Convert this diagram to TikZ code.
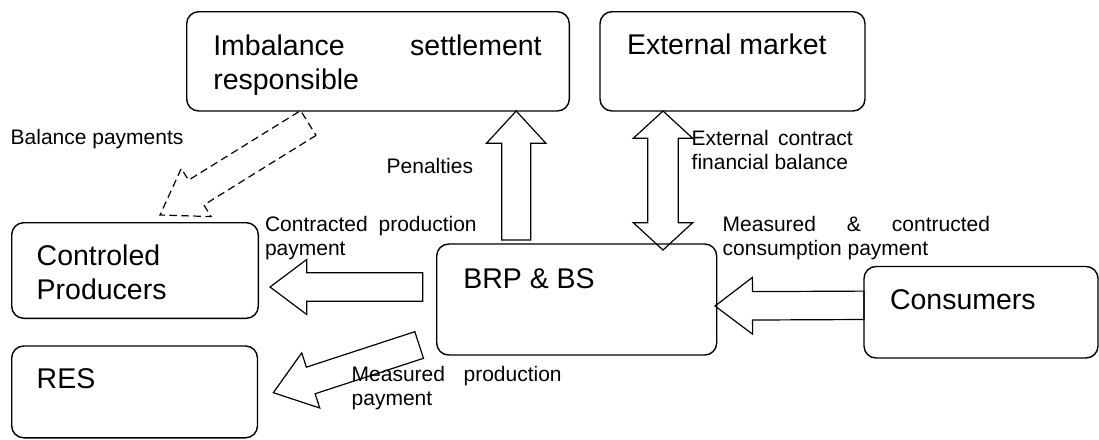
\documentclass[tikz,border=0pt]{standalone}
\usepackage{fontspec}
\setmainfont{Liberation Sans}
\usetikzlibrary{calc}

\tikzset{
  box/.style={draw, line width=1.4pt, rounded corners=12pt, inner sep=0pt, outer sep=0pt, anchor=north west},
  bigtxt/.style={inner sep=0pt, outer sep=0pt, anchor=base west, font=\fontsize{28.5}{34}\selectfont},
  smalltxt/.style={inner sep=0pt, outer sep=0pt, anchor=base west, font=\fontsize{21}{24}\selectfont},
  flow/.style={draw, line width=1.2pt, line join=miter},
  dashflow/.style={flow, dash pattern=on 7.5pt off 4.5pt},
}

% block arrow: [style]{tail}{tip}{half shaft width}{half head width}{head length}
\newcommand\blockarrow[6][]{%
  \coordinate (ba-h) at ($(#3)!#6!(#2)$);
  \draw[flow,#1] ($(#2)!#4!90:(#3)$) -- ($(ba-h)!#4!-90:(#2)$) -- ($(ba-h)!#5!-90:(#2)$)
    -- (#3) -- ($(ba-h)!#5!90:(#2)$) -- ($(ba-h)!#4!90:(#2)$) -- ($(#2)!#4!-90:(#3)$) -- cycle;}

% double-headed block arrow: [style]{end A}{end B}{half shaft width}{half head width}{head length}
\newcommand\dblarrow[6][]{%
  \coordinate (da-a) at ($(#2)!#6!(#3)$);
  \coordinate (da-b) at ($(#3)!#6!(#2)$);
  \draw[flow,#1] (#2) -- ($(da-a)!#5!90:(#3)$) -- ($(da-a)!#4!90:(#3)$) -- ($(da-b)!#4!-90:(#2)$)
    -- ($(da-b)!#5!-90:(#2)$) -- (#3) -- ($(da-b)!#5!90:(#2)$) -- ($(da-b)!#4!90:(#2)$)
    -- ($(da-a)!#4!-90:(#3)$) -- ($(da-a)!#5!-90:(#3)$) -- cycle;}

\begin{document}
\begin{tikzpicture}[x=1pt, y=-1pt]
\useasboundingbox (0,0) rectangle (1099,439);

% actors
\node[box, minimum width=382.6pt, minimum height=99.3pt] (imb)  at (186.7,11.7) {};
\node[box, minimum width=265pt,   minimum height=99.3pt] (ext)  at (600,11.7) {};
\node[box, minimum width=246.6pt, minimum height=95.6pt] (ctrl) at (11.7,222.7) {};
\node[box, minimum width=245.8pt, minimum height=91.8pt] (res)  at (11.7,346) {};
\node[box, minimum width=280pt,   minimum height=111pt]  (brp)  at (436.7,244) {};
\node[box, minimum width=234pt,   minimum height=91.5pt] (cons) at (864,266.5) {};

% arrow end points
\coordinate (balTail) at (308.35,123);
\coordinate (balTip)  at (160,215);
\coordinate (penTail) at (516.2,240);
\coordinate (penTip)  at (penTail |- imb.south);
\coordinate (extTop)  at (imb.south -| 663,0);
\coordinate (extBot)  at (663,250);
\coordinate (conTail) at (422.7,287);
\coordinate (conTip)  at (270,287);
\coordinate (cnsTail) at (864,305.3);
\coordinate (cnsTip)  at (715,306);
\coordinate (resTail) at (419.15,345);
\coordinate (resTip)  at (273.3,392.7);

% money flows
\blockarrow[dashflow]{balTail}{balTip}{14.6pt}{28.3pt}{42.6pt}
\blockarrow{penTail}{penTip}{14.5pt}{29.7pt}{32.3pt}
\dblarrow{extTop}{extBot}{15.2pt}{29.7pt}{27.3pt}
\blockarrow{conTail}{conTip}{14.2pt}{27.5pt}{36.7pt}
\blockarrow{cnsTail}{cnsTip}{14.2pt}{28.4pt}{37.5pt}
\blockarrow{resTail}{resTip}{14pt}{29pt}{39.4pt}

% actor names
\node[bigtxt] (imbT)  at ($(imb.north west)+(26.6,43.3)$)
  {\parbox[t]{330pt}{\makebox[328.4pt][s]{Imbalance settlement}\\responsible}};
\node[bigtxt] (extT)  at ($(ext.north west)+(27,42.3)$) {External market};
\node[bigtxt] (ctrlT) at ($(ctrl.north west)+(25,42.3)$)
  {\parbox[t]{200pt}{Controled\\Producers}};
\node[bigtxt] (resT)  at ($(res.north west)+(25,42.3)$) {RES};
\node[bigtxt] (brpT)  at ($(brp.north west)+(26.6,44.3)$) {BRP \& BS};
\node[bigtxt] (consT) at ($(cons.north west)+(26,42.8)$) {Consumers};

% flow labels
\node[smalltxt] (balL) at (10.7,144) {Balance payments};
\node[smalltxt] (penL) at (386.7,173.3) {Penalties};
\node[smalltxt] (conL) at (265,231.7)
  {\parbox[t]{215pt}{\makebox[211.7pt][s]{Contracted production}\\payment}};
\node[smalltxt] (extL) at (691.7,145)
  {\parbox[t]{165pt}{\makebox[161pt][s]{External contract}\\[0.3pt]financial balance}};
\node[smalltxt] (cnsL) at (722.7,231.7)
  {\parbox[t]{270pt}{\makebox[267.3pt][s]{Measured \& contructed}\\consumption payment}};
\node[smalltxt] (resL) at (351.7,381.7)
  {\parbox[t]{215pt}{\makebox[210pt][s]{Measured production}\\[-0.7pt]payment}};
\end{tikzpicture}
\end{document}
